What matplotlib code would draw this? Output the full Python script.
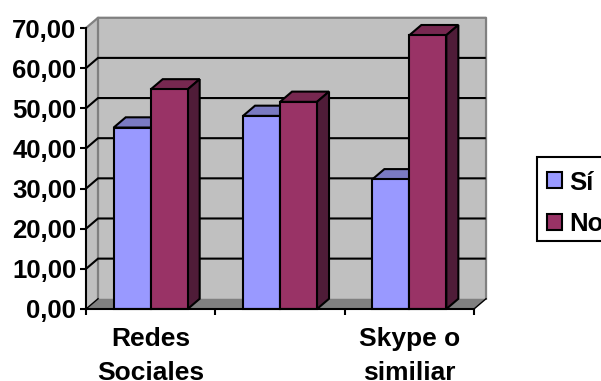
import matplotlib
matplotlib.use('Agg')
import matplotlib.pyplot as plt
from matplotlib.patches import Patch, Polygon, Rectangle

categories = ['Redes\nSociales', '', 'Skype o\nsimiliar']
si_values = [45.2, 48.1, 32.3]
no_values = [54.7, 51.6, 68.2]
y_ticks = [0, 10, 20, 30, 40, 50, 60, 70]
y_labels = ['0,00', '10,00', '20,00', '30,00', '40,00', '50,00', '60,00', '70,00']

SI_FRONT, SI_TOP, SI_SIDE = '#9999FF', '#7A7AC2', '#4F4F85'
NO_FRONT, NO_TOP, NO_SIDE = '#993366', '#772850', '#4F1C38'
WALL = '#C0C0C0'
FLOOR = '#808080'

# depth of the 3d box, in data units
DX = 0.093
DY = 2.55
BAR_W = 0.286
LW = 1.5

plt.rcParams['font.family'] = ['Liberation Sans', 'DejaVu Sans']
plt.rcParams['font.weight'] = 'bold'

fig = plt.figure(figsize=(6.01, 3.81), dpi=100)
ax = fig.add_axes([86 / 601, 1 - 309 / 381, 388 / 601, 281 / 381])
ax.set_xlim(0, 3)
ax.set_ylim(0, 70)
ax.patch.set_visible(False)


def poly(pts, color, edge='none', lw=0, z=1):
    ax.add_patch(Polygon(pts, closed=True, facecolor=color, edgecolor=edge,
                         linewidth=lw, zorder=z, clip_on=False, joinstyle='miter'))


# walls and floor
poly([(DX, DY), (3 + DX, DY), (3 + DX, 70 + DY), (DX, 70 + DY)], WALL)
poly([(0, 0), (DX, DY), (DX, 70 + DY), (0, 70)], WALL)
poly([(0, 0), (3, 0), (3 + DX, DY), (DX, DY)], FLOOR)
ax.plot([0, DX, DX, 3 + DX, 3 + DX], [70, 70 + DY, 70 + DY, 70 + DY, DY],
        color=FLOOR, lw=1.6, zorder=2, clip_on=False)
ax.plot([DX, DX], [DY, 70 + DY], color=FLOOR, lw=1.6, zorder=2, clip_on=False)

# gridlines run across the back wall and down the left one
for v in y_ticks[1:-1]:
    ax.plot([0, DX, 3 + DX - 0.01], [v, v + DY, v + DY], color='black', lw=LW,
            zorder=3, clip_on=False, solid_joinstyle='miter')
ax.plot([0, DX], [0, DY], color='black', lw=1.0, zorder=3, clip_on=False)
ax.plot([3, 3 + DX], [0, DY], color='black', lw=1.0, zorder=3, clip_on=False)


def bar3d(x, h, front, top, side, z):
    poly([(x, h), (x + BAR_W, h), (x + BAR_W + DX, h + DY), (x + DX, h + DY)],
         top, 'black', LW, z)
    poly([(x + BAR_W, 0), (x + BAR_W + DX, DY), (x + BAR_W + DX, h + DY), (x + BAR_W, h)],
         side, 'black', LW, z)
    ax.bar(x, h, BAR_W, align='edge', color=front, edgecolor='black',
           linewidth=LW, zorder=z + 0.01, clip_on=False)


for i in range(len(categories)):
    center = i + 0.5
    bar3d(center - BAR_W, si_values[i], SI_FRONT, SI_TOP, SI_SIDE, 4 + i * 0.2)
    bar3d(center, no_values[i], NO_FRONT, NO_TOP, NO_SIDE, 4.1 + i * 0.2)

for s in ['top', 'right']:
    ax.spines[s].set_visible(False)
for s in ['left', 'bottom']:
    ax.spines[s].set_linewidth(LW)
    ax.spines[s].set_zorder(8)

ax.set_yticks(y_ticks)
ax.set_yticklabels(y_labels, fontsize=18.5, fontweight='bold')
ax.tick_params(axis='y', length=4, width=LW, pad=3)
ax.set_xticks([0, 1, 2, 3])
ax.set_xticklabels([])
ax.tick_params(axis='x', length=4, width=LW)
for i, name in enumerate(categories):
    ax.annotate(name, xy=(i + 0.5, 0), xycoords='data', xytext=(0, -13),
                textcoords='offset points', ha='center', va='top',
                fontsize=19, fontweight='bold', linespacing=1.5,
                annotation_clip=False)

# legend box runs off the right edge of the figure
fig.add_artist(Rectangle((537 / 601, 1 - 241 / 381), 80 / 601, 84.5 / 381,
                         transform=fig.transFigure, facecolor='white',
                         edgecolor='black', linewidth=LW))
handles = [Patch(facecolor=SI_FRONT, edgecolor='black', linewidth=LW),
           Patch(facecolor=NO_FRONT, edgecolor='black', linewidth=LW)]
leg = fig.legend(handles, ['Sí', 'No'], loc='upper left',
                 bbox_to_anchor=(537 / 601, 1 - 160.5 / 381),
                 bbox_transform=fig.transFigure, frameon=False,
                 borderpad=0.39, labelspacing=0.68,
                 handlelength=0.58, handleheight=0.58, handletextpad=0.27,
                 borderaxespad=0, prop={'size': 18.5, 'weight': 'bold'})
leg.set_zorder(10)

fig.savefig('out.png', dpi=100)
